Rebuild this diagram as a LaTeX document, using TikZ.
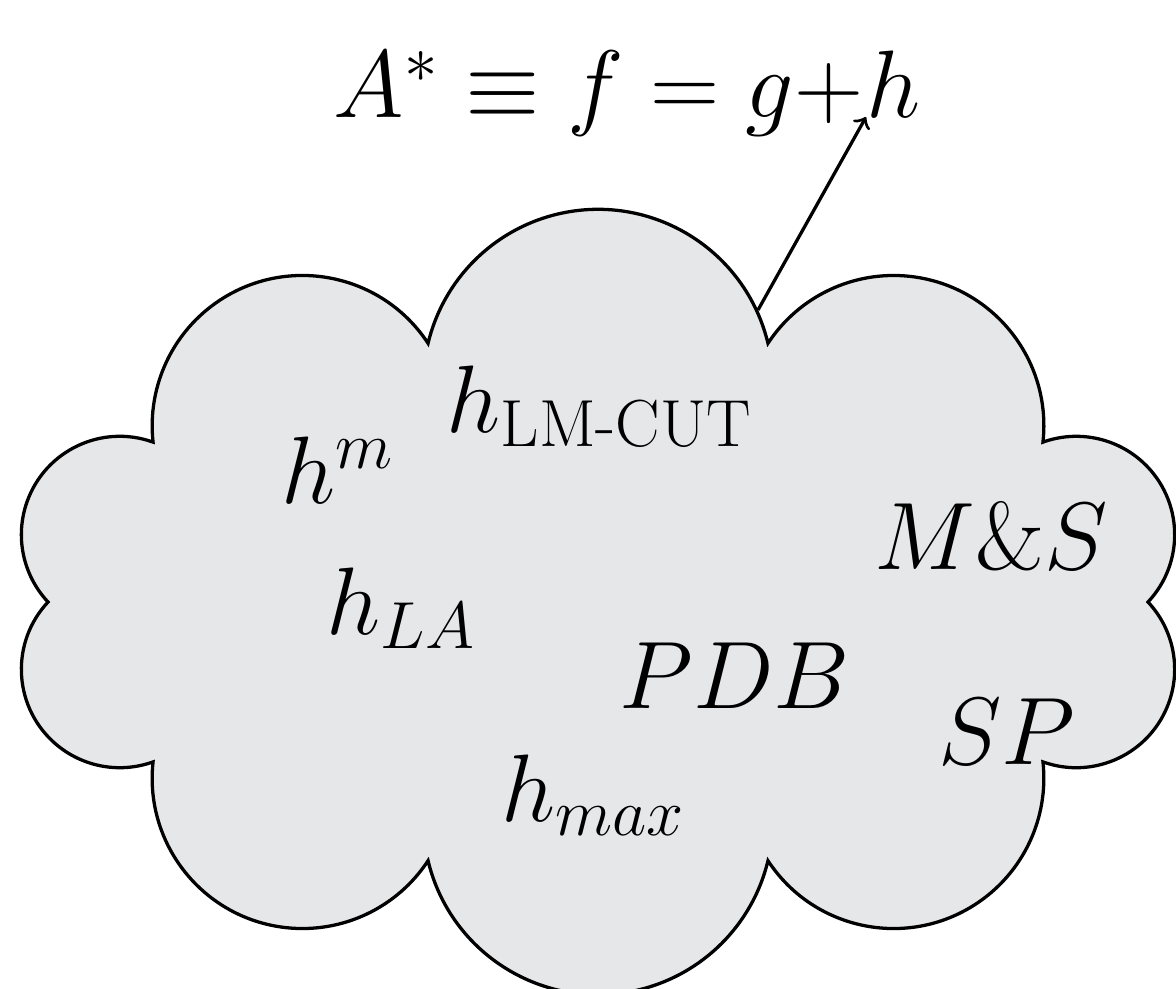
\documentclass[tikz,border=0pt]{standalone}
\usepackage{amsmath}
\DeclareMathSizes{24.88}{24.88}{17.28}{12}
\definecolor{cloudgray}{RGB}{230,231,232}

\begin{document}
\begin{tikzpicture}[x=0.912cm, y=0.912cm, line width=0.85pt,
    lbl/.style={anchor=base west, inner sep=0pt, font=\fontsize{24.88}{30}\selectfont}]
  \useasboundingbox (-5.98,-3.86) rectangle (5.78,6.02);
  \def\ra{5.5} \def\rb{2.72} \def\puff{153}
  % the cloud: ten puffs, cusps on an ellipse
  \filldraw[fill=cloudgray] (\ra,0)
    \foreach \k in {0,...,9} {
      arc[start angle={atan2(\rb*sin(36*\k+36)-\rb*sin(36*\k), \ra*cos(36*\k+36)-\ra*cos(36*\k))+270-\puff/2},
          delta angle=\puff,
          radius={veclen(\ra*cos(36*\k+36)-\ra*cos(36*\k), \rb*sin(36*\k+36)-\rb*sin(36*\k))/(2*sin(\puff/2))}]
    } -- cycle;
  \node[lbl] (astar) at (-2.66,4.85) {$A^*\equiv f=g+$};
  \node[lbl] (h) at (astar.base east) {$h$};
  \node[lbl] (hm) at (-3.18,0.99) {$h^m$};
  \node[lbl] (hlmcut) at (-1.53,1.70) {$h_{\text{LM-CUT}}$};
  \node[lbl] (hla) at (-2.73,-0.32) {$h_{LA}$};
  \node[lbl] (pdb) at (0.20,-1.06) {$PDB$};
  \node[lbl] (ms) at (2.75,0.33) {$M\&S$};
  \node[lbl] (sp) at (3.39,-1.62) {$SP$};
  \node[lbl] (hmax) at (-0.98,-2.19) {$h_{max}$};
  \coordinate (tail) at (1.60,2.92);
  \draw[->] (tail) -- ([xshift=0.01cm]h.base west);
\end{tikzpicture}
\end{document}
